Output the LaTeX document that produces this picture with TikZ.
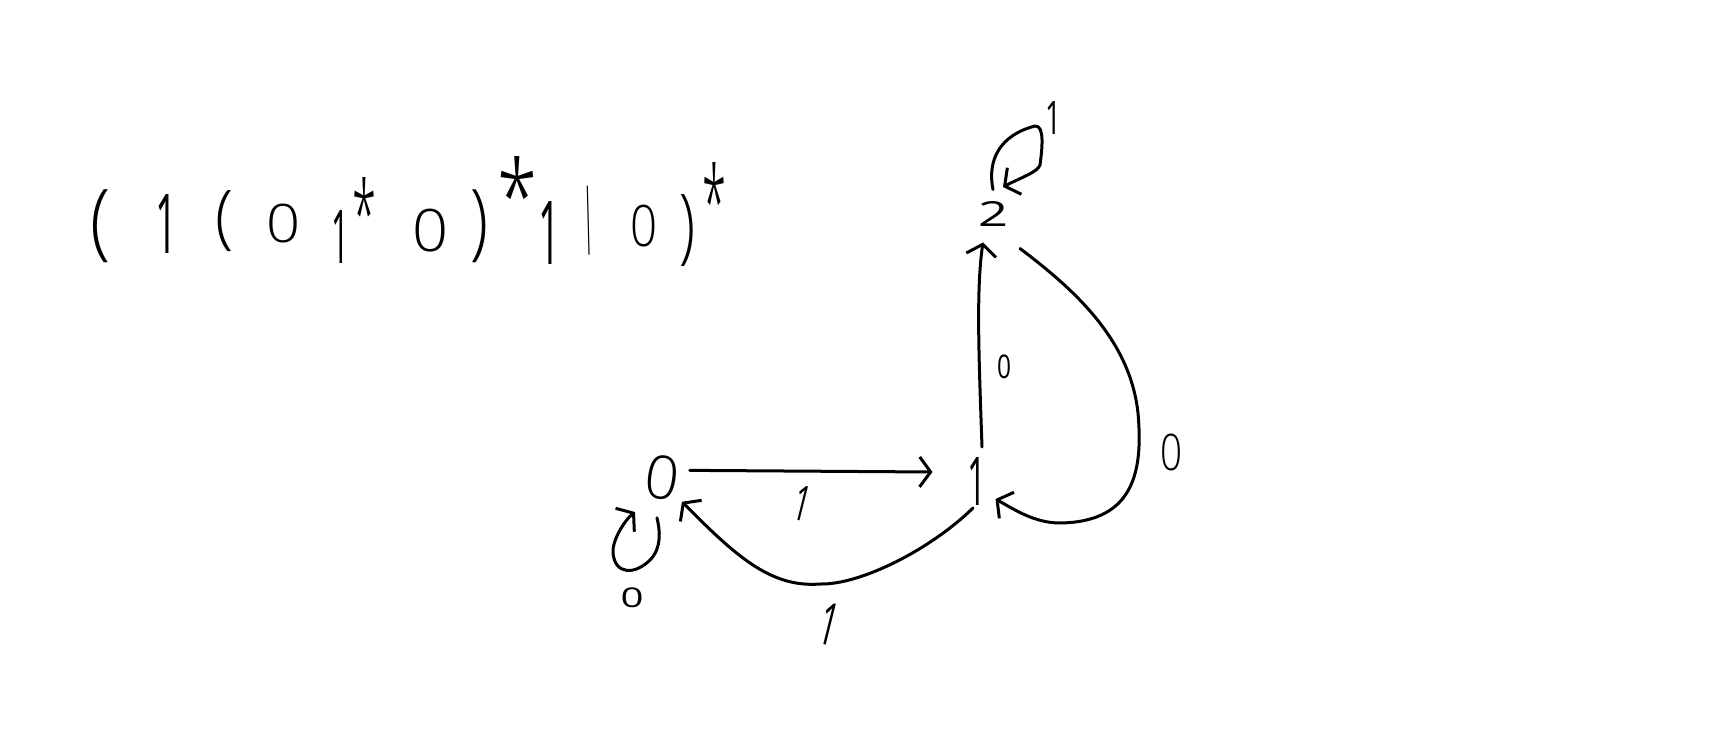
\documentclass[tikz,border=0pt]{standalone}
\usepackage{graphicx}
\usepackage{fontspec}
\setmainfont{Open Sans}[UprightFont=* Light]
\newfontfamily\regfont{Open Sans}
\usetikzlibrary{arrows.meta}
\newcommand{\fitg}[3]{\resizebox*{#1pt}{#2pt}{\fontsize{60}{60}\selectfont #3}}
\newcommand{\fitr}[3]{\resizebox*{#1pt}{#2pt}{\fontsize{60}{60}\regfont #3}}
\newcommand{\gly}[5]{\setbox0\hbox{\fitg{#3}{#4}{#5}}\rlap{\kern\dimexpr #1pt-.5\wd0\relax\lower\dimexpr #2pt+.5\ht0-.5\dp0\relax\box0}}
\newcommand{\glr}[5]{\setbox0\hbox{\fitr{#3}{#4}{#5}}\rlap{\kern\dimexpr #1pt-.5\wd0\relax\lower\dimexpr #2pt+.5\ht0-.5\dp0\relax\box0}}
\tikzset{
  hand/.style={line width=3pt,line cap=round,line join=round,black},
  edge/.style={hand,-{Straight Barb[length=11pt,width=30pt,line width=3pt]}},
  glyph/.style={inner sep=0pt,outer sep=0pt,anchor=center,text=black}
}
\begin{document}
\begin{tikzpicture}[x=1pt,y=-1pt]
\useasboundingbox[fill=white] (0,0) rectangle (1711,746);
% the expression
\node[inner sep=0pt,anchor=base west] (expr) at (0,0) {%
\gly{100}{226}{20}{73}{(}%
\glr{166}{224}{22}{59}{1}%
\gly{224}{221}{18}{61}{(}%
\gly{283}{224}{34}{39}{0}%
\glr{340}{237}{18}{53}{1}%
\gly{364}{213}{24}{70}{*}%
\gly{430}{231}{36}{43}{0}%
\gly{479}{226}{18}{73}{)}%
\gly{517}{195}{40}{76}{*}%
\glr{549}{233}{22}{63}{1}%
\glr{588}{221}{11}{73}{\rotatebox{6}{|}}%
\gly{643}{226}{27}{42}{0}%
\gly{687}{231}{16}{72}{)}%
\gly{714}{201}{24}{76}{*}%
};
% states
\node[glyph,rotate=-8] (s0) at (662,478) {\fitg{34}{44}{0}};
\node[glyph] (s1) at (977,481) {\fitr{19}{48}{1}};
\node[glyph] (s2) at (993,214) {\fitr{30}{25}{2}};
% edge labels
\node[glyph] (l00) at (632,598) {\fitr{23}{20}{0}};
\node[glyph,rotate=-14] (l01) at (802,503) {\fitr{16}{35}{1}};
\node[glyph,rotate=-14] (l10) at (829,624) {\fitr{18}{42}{1}};
\node[glyph] (l12) at (1004,367) {\fitr{14}{24}{0}};
\node[glyph] (l21) at (1171,452) {\fitg{22}{37}{0}};
\node[glyph] (l22) at (1053,118) {\fitr{16}{33}{1}};
% connectors
\draw[edge] ([shift={(11,-10)}]s0.east) -- ([shift={(-35,-9)}]s1.west);
\draw[edge] ([shift={(-4,3)}]s1.south) .. controls (930,550) and (860,585) .. (820,584) .. controls (770,588) and (735,555) .. ([shift={(23,2)}]s0.south);
\draw[edge] ([shift={(5,-10)}]s1.north) .. controls (979,360) and (976,290) .. ([shift={(-10,16)}]s2.south);
\draw[edge] ([shift={(27,22)}]s2.south) .. controls (1075,290) and (1130,340) .. (1138,413) .. controls (1143,470) and (1135,522) .. (1060,523) .. controls (1035,523) and (1015,510) .. ([shift={(9,18)}]s1.east);
\draw[edge] ([shift={(-2,18)}]s0.south) .. controls (660,530) and (662,548) .. (650,560) .. controls (635,575) and (615,575) .. (613,553) .. controls (612,540) and (625,520) .. (635,512);
\draw[edge] ([shift={(0,-12)}]s2.north) .. controls (987,160) and (1000,135) .. (1035,126) .. controls (1045,125) and (1042,150) .. (1040,165) .. controls (1038,172) and (1020,178) .. (1003,187);
\end{tikzpicture}
\end{document}
